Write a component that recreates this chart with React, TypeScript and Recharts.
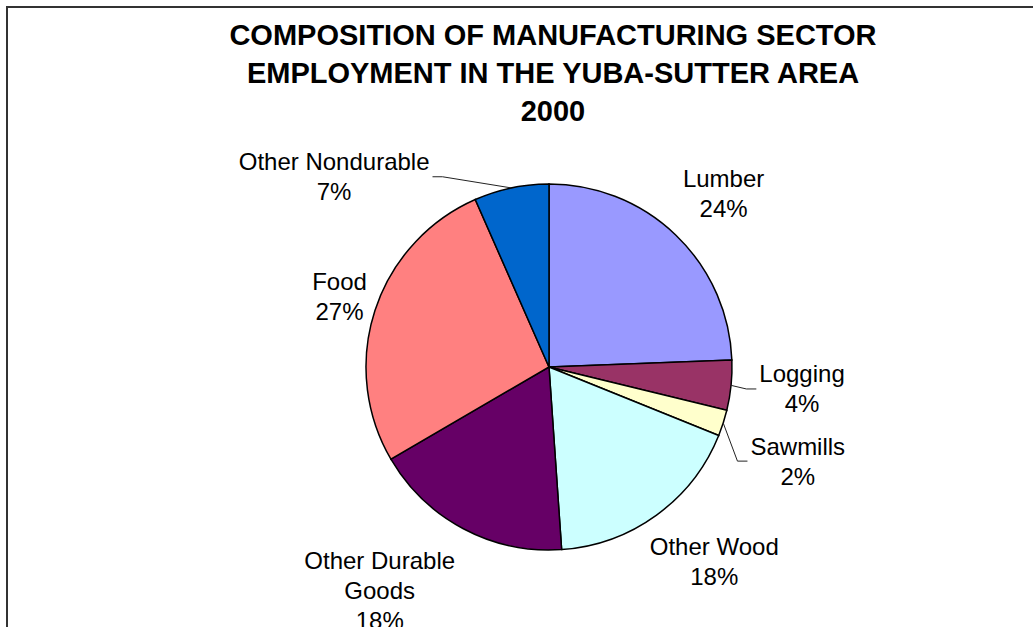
import { Cell, Pie, PieChart } from "recharts";

// Yuba-Sutter manufacturing employment shares, 2000 (percent of total)
const categories = [
  "Lumber",
  "Logging",
  "Sawmills",
  "Other Wood",
  "Other Durable\nGoods",
  "Food",
  "Other Nondurable",
];
const shares = [24.4, 4.4, 2.3, 17.8, 17.7, 26.8, 6.6];
const titleLines = [
  "COMPOSITION OF MANUFACTURING SECTOR",
  "EMPLOYMENT IN THE YUBA-SUTTER AREA",
  "2000",
];

const COLORS = ["#9999FF", "#993366", "#FFFFCC", "#CCFFFF", "#660066", "#FF8080", "#0066CC"];

// label placement relative to each slice's mid angle (deg, clockwise) and radius
const LABEL_SHIFT = [
  { da: 1.3, r: 246, leader: false },
  { da: -0.8, r: 254, leader: true },
  { da: 2.9, r: 266, leader: true },
  { da: -4.4, r: 255, leader: false },
  { da: 9.3, r: 280, leader: false },
  { da: 0.6, r: 221, leader: false },
  { da: -36.6, r: 287, leader: true },
];

const FONT = "'Liberation Sans', Arial, sans-serif";
const LABEL_SIZE = 24;
const LINE_H = 30;

const data = categories.map((name, i) => ({ name, value: shares[i] }));

let ctx: CanvasRenderingContext2D | null = null;
function textWidth(s: string) {
  if (!ctx) ctx = document.createElement("canvas").getContext("2d");
  if (!ctx) return s.length * LABEL_SIZE * 0.5;
  ctx.font = `${LABEL_SIZE}px ${FONT}`;
  return ctx.measureText(s).width;
}

const RAD = Math.PI / 180;

function renderLabel(props: any) {
  const { cx, cy, midAngle, outerRadius, index, percent, name } = props;
  const shift = LABEL_SHIFT[index];
  const theta = 90 - midAngle; // clockwise from 12 o'clock
  const a = (theta + shift.da) * RAD;
  const lx = cx + shift.r * Math.sin(a);
  const ly = cy - shift.r * Math.cos(a);
  const lines = [...String(name).split("\n"), `${Math.round(percent * 100)}%`];
  const top = ly - ((lines.length - 1) * LINE_H) / 2;

  let leader = null;
  if (shift.leader) {
    const t = theta * RAD;
    const sx = cx + outerRadius * Math.sin(t);
    const sy = cy - outerRadius * Math.cos(t);
    const w = textWidth(lines[0]);
    const onLeft = lx < cx;
    const ex = onLeft ? lx + w / 2 + 3 : lx - w / 2 - 3;
    const bx = onLeft ? ex + 10 : ex - 10;
    leader = (
      <polyline
        points={`${sx},${sy} ${bx},${ly} ${ex},${ly}`}
        fill="none"
        stroke="#222"
        strokeWidth={1}
      />
    );
  }

  return (
    <g key={`lbl-${index}`}>
      {leader}
      {lines.map((ln, k) => (
        <text
          key={k}
          x={lx}
          y={top + k * LINE_H + 8.5}
          textAnchor="middle"
          fontFamily={FONT}
          fontSize={LABEL_SIZE}
          fill="#000"
        >
          {ln}
        </text>
      ))}
    </g>
  );
}

export default function App() {
  return (
    <div
      style={{
        position: "absolute",
        left: 0,
        top: 0,
        width: 1033,
        height: 627,
        overflow: "hidden",
        background: "#fff",
      }}
    >
      <div style={{ position: "absolute", left: 0, top: 0 }}>
        <PieChart width={1033} height={627} margin={{ top: 0, right: 0, bottom: 0, left: 0 }}>
          <Pie
            data={data}
            dataKey="value"
            nameKey="name"
            cx={549}
            cy={367}
            outerRadius={183}
            startAngle={90}
            endAngle={-270}
            stroke="#000"
            strokeWidth={1.5}
            label={renderLabel}
            labelLine={false}
            isAnimationActive={false}
          >
            {data.map((d, i) => (
              <Cell key={d.name} fill={COLORS[i]} />
            ))}
          </Pie>
        </PieChart>
      </div>
      <svg
        width={1033}
        height={627}
        style={{ position: "absolute", left: 0, top: 0, pointerEvents: "none" }}
      >
        <rect x={7} y={7} width={1100} height={700} fill="none" stroke="#333" strokeWidth={2} />
        {titleLines.map((t, i) => (
          <text
            key={t}
            x={553}
            y={45 + i * 38}
            textAnchor="middle"
            fontFamily={FONT}
            fontWeight="bold"
            fontSize={29}
            fill="#000"
          >
            {t}
          </text>
        ))}
      </svg>
    </div>
  );
}
